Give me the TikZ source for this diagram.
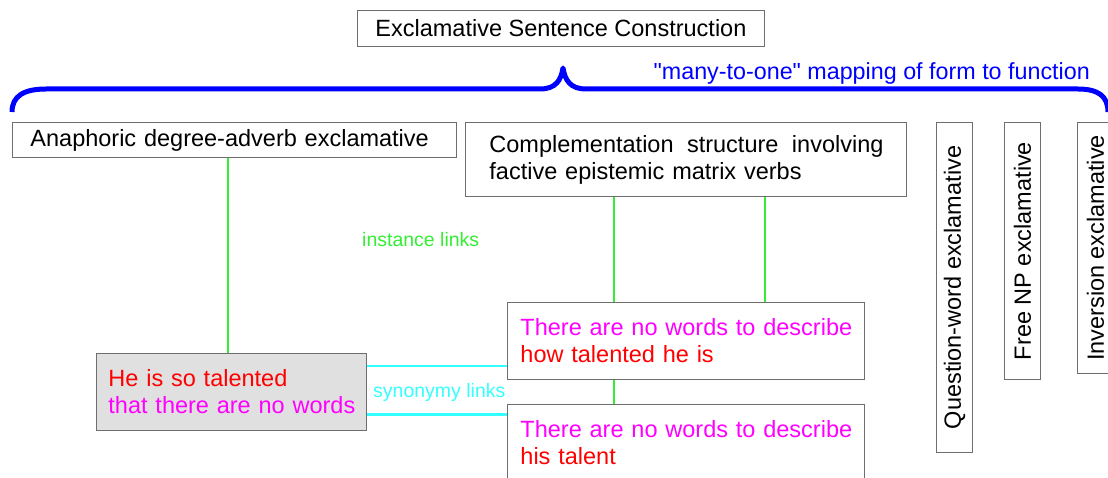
\documentclass[tikz,border=0pt]{standalone}
\usepackage{fontspec}
\setmainfont{Liberation Sans}[Ligatures=TeXOff]
\usetikzlibrary{calc}
\definecolor{linkgreen}{RGB}{51,238,51}
\definecolor{linkcyan}{RGB}{51,255,255}
\definecolor{boxgray}{RGB}{224,224,224}
\definecolor{edgegray}{RGB}{110,110,110}
\definecolor{exred}{RGB}{255,0,0}
\definecolor{exmagenta}{RGB}{255,0,255}
\definecolor{exblue}{RGB}{0,0,255}

\tikzset{
  cxbox/.style={draw=edgegray, line width=0.9pt, anchor=north west, align=left,
    inner ysep=0pt, font=\fontsize{23.5}{27}\selectfont},
  vbox/.style={draw=edgegray, line width=0.9pt, rotate=90, anchor=north east,
    inner sep=0pt, minimum height=36pt, font=\fontsize{23.5}{27}\selectfont},
  linklabel/.style={anchor=west, inner sep=0pt, font=\fontsize{19.5}{23}\selectfont},
  inst/.style={linkgreen, line width=2pt},
  syn/.style={linkcyan, line width=2.4pt},
}

\begin{document}
\begin{tikzpicture}[x=1pt, y=-1pt, line cap=butt]
  \useasboundingbox (0,0) rectangle (1108,478);

  % --- top: the construction and its brace ---
  \node[cxbox, inner xsep=18pt, minimum height=36pt] (top) at (357,10)
    {Exclamative Sentence Construction};

  \coordinate (br-l) at (12,112);
  \coordinate (br-r) at (1108,112);
  \coordinate (br-tip) at (563,68);
  \draw[exblue, line width=5pt, line join=round]
    (br-l) .. controls (12,96) and (24,89) .. (46,89) -- (540,89)
    .. controls (556,89) and (561,80) .. (br-tip)
    .. controls (565,80) and (570,89) .. (586,89) -- (1078,89)
    .. controls (1098,89) and (1108,96) .. (br-r);
  \node[exblue, anchor=base east, inner sep=0pt, font=\fontsize{23.3}{27}\selectfont]
    (mapping) at (1090,80) {"many-to-one" mapping of form to function};

  % --- subtypes ---
  \node[cxbox, inner xsep=18pt, text width=408pt, minimum height=35pt] (ana) at (12,122)
    {Anaphoric degree-adverb exclamative};
  \node[cxbox, inner xsep=24pt, text width=393pt, minimum height=74pt] (comp) at (465,122)
    {\hbox to 394pt{Complementation\hfill structure\hfill involving}\\
     \mbox{factive epistemic matrix verbs}};

  \node[vbox, minimum width=330pt] (qword) at (936,122) {Question-word exclamative};
  \node[vbox, minimum width=257pt] (freenp) at (1004,122) {Free NP exclamative};
  \node[vbox, minimum width=251pt] (inv) at (1077,122) {Inversion exclamative};

  % --- instances ---
  \node[cxbox, fill=boxgray, inner xsep=12pt, text width=246pt, minimum height=77pt] (he) at (96,353)
    {\textcolor{exred}{\mbox{He is so talented}}\\
     \textcolor{exmagenta}{\mbox{that there are no words}}};
  \node[cxbox, fill=white, inner xsep=13pt, text width=331pt, minimum height=77pt] (there1) at (507,302)
    {\textcolor{exmagenta}{\mbox{There are no words to describe}}\\
     \textcolor{exred}{\mbox{how talented he is}}};
  \node[cxbox, fill=white, inner xsep=13pt, text width=331pt, minimum height=77pt] (there2) at (507,404)
    {\textcolor{exmagenta}{\mbox{There are no words to describe}}\\
     \textcolor{exred}{\mbox{his talent}}};

  % === instance links (green) ===
  \coordinate (t1-a) at ($(there1.north west)!0.3!(there1.north east)$);
  \coordinate (t1-b) at ($(there1.north west)!0.72!(there1.north east)$);
  \coordinate (he-top) at ($(he.north west)!0.489!(he.north east)$);
  \draw[inst] (he-top) -- (he-top |- ana.south);
  \draw[inst] (t1-a) -- (t1-a |- comp.south);
  \draw[inst] (t1-b) -- (t1-b |- comp.south);
  \draw[inst] (t1-a |- there1.south) -- (t1-a |- there2.north);
  \node[linklabel, text=linkgreen] (instlbl) at (362,240) {instance links};

  % === synonymy links (cyan) ===
  \coordinate (he-s1) at ($(he.north east)!0.17!(he.south east)$);
  \coordinate (he-s2) at ($(he.north east)!0.79!(he.south east)$);
  \draw[syn] (he-s1) -- (he-s1 -| there1.west);
  \draw[syn] (he-s2) -- (he-s2 -| there2.west);
  \node[linklabel, text=linkcyan] (synlbl) at (373,392) {synonymy links};
\end{tikzpicture}
\end{document}
